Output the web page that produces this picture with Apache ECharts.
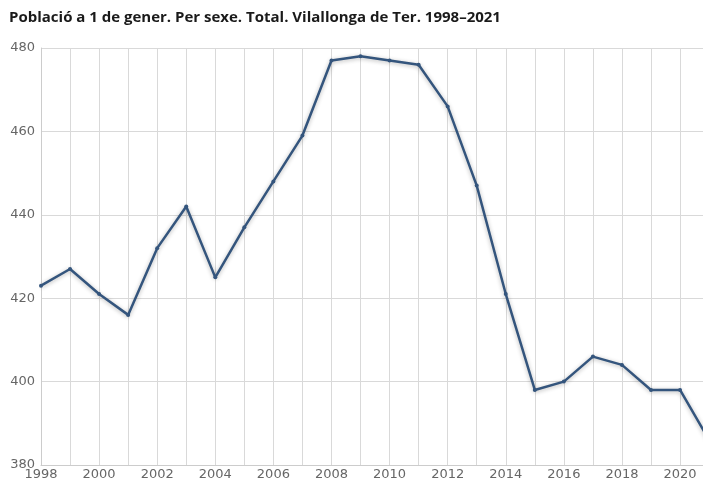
<!DOCTYPE html>
<html>
<head>
<meta charset="utf-8">
<script src="https://cdn.jsdelivr.net/npm/echarts@6/dist/echarts.min.js"></script>
<style>
html, body { margin: 0; padding: 0; background: #fff; }
#main { width: 703px; height: 483px; }
</style>
</head>
<body>
<div id="main"></div>
<script>
// dades
var years = [1998, 1999, 2000, 2001, 2002, 2003, 2004, 2005, 2006, 2007, 2008, 2009,
    2010, 2011, 2012, 2013, 2014, 2015, 2016, 2017, 2018, 2019, 2020, 2021];
var poblacio = [423, 427, 421, 416, 432, 442, 425, 437, 448, 459, 477, 478,
    477, 476, 466, 447, 421, 398, 400, 406, 404, 398, 398, 386];
var yTicks = [380, 400, 420, 440, 460, 480];

var chart = echarts.init(document.getElementById('main'));
var points = [];
for (var i = 0; i < years.length; i++) {
    points.push([years[i], poblacio[i]]);
}
var option = {
    animation: false,
    title: {
        text: 'Població a 1 de gener. Per sexe. Total. Vilallonga de Ter. 1998–2021',
        left: 4,
        top: 5,
        textStyle: {
            fontFamily: 'Open Sans',
            fontWeight: 'bold',
            fontSize: 15,
            color: '#1a1a1a'
        }
    },
    grid: { left: 41, top: 48, right: 0, bottom: 18 },
    xAxis: {
        type: 'value',
        min: 1998,
        max: 2020.79,
        interval: 1,
        axisLine: { show: true, lineStyle: { color: '#ccc' } },
        axisTick: { show: false },
        splitLine: { show: true, lineStyle: { color: '#d9d9d9' } },
        axisLabel: {
            color: '#666',
            fontFamily: 'DejaVu Sans',
            fontSize: 13,
            margin: 3,
            showMaxLabel: false,
            formatter: function(v) {
                return (v % 2 === 0) ? String(v) : '';
            }
        }
    },
    yAxis: {
        type: 'value',
        min: yTicks[0],
        max: yTicks[yTicks.length - 1],
        interval: 20,
        axisLine: { show: true, lineStyle: { color: '#ccc' } },
        axisTick: { show: false },
        splitLine: { show: true, lineStyle: { color: '#d9d9d9' } },
        axisLabel: {
            color: '#666',
            fontFamily: 'DejaVu Sans',
            fontSize: 13,
            margin: 6
        }
    },
    series: [{
        type: 'line',
        data: points,
        clip: true,
        symbol: 'circle',
        symbolSize: 4,
        lineStyle: {
            color: '#34557d',
            width: 2.5,
            shadowColor: 'rgba(0,0,0,0.3)',
            shadowBlur: 4,
            shadowOffsetY: 1
        },
        itemStyle: { color: '#34557d' }
    }]
};
chart.setOption(option);
</script>
</body>
</html>
